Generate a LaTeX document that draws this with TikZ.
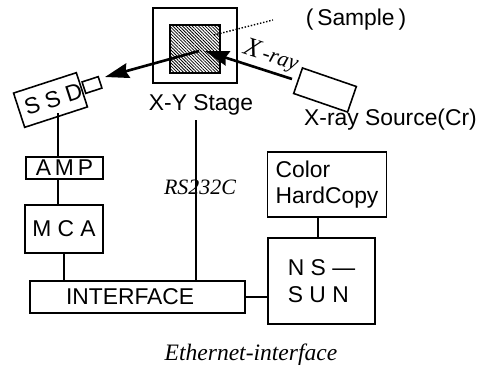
\documentclass[tikz,border=0pt]{standalone}
\usepackage{fontspec}
\setmainfont{Liberation Sans}
\newfontfamily\italfont{Liberation Serif}
\usepackage{xcolor}
\usetikzlibrary{arrows.meta, patterns.meta, positioning, calc}
\tikzset{
  blockbox/.style={draw, line width=0.9pt, inner sep=0pt, font=\fontsize{13}{15}\selectfont},
  plainlabel/.style={inner sep=0pt, font=\fontsize{13}{15}\selectfont},
  italiclabel/.style={inner sep=0pt, font=\fontsize{13.4}{15}\selectfont\italfont\itshape},
  beam/.style={line width=1.5pt, -{Stealth[length=0.48cm, width=0.3cm, inset=0.05cm]}},
  wire/.style={line width=0.9pt}
}
\begin{document}
\begin{tikzpicture}[x=0.02cm, y=-0.02cm]
      \useasboundingbox (0,0) rectangle (483,370);

      \node[blockbox, minimum width=1.68cm, minimum height=1.5cm] (stage) at (195,45.5) {};
      \node[draw, line width=1pt, minimum width=1cm, minimum height=0.96cm, pattern={Lines[angle=-45, distance=1.3pt, line width=0.45pt]}] (sample) at (195,49) {};
      \node[plainlabel] (stagelabel) at (201,105) {X-Y Stage};
      \node[plainlabel] (samplelabel) at (356,20) {(\,Sample\,)};

      \node[blockbox, rotate=18, minimum width=1.32cm, minimum height=0.72cm] (ssd) at (50.5,100) {\hspace*{3.4pt}S S D};
      \node[blockbox, rotate=18, minimum width=0.34cm, minimum height=0.24cm] (nozzle) at (92,85) {};
      \node[blockbox, rotate=-19, minimum width=1.14cm, minimum height=0.54cm] (source) at (325,90) {};
      \node[plainlabel] (sourcelabel) at (390.5,120) {X-ray Source(Cr)};
      \node[italiclabel, rotate=-18] (xraylabel) at (271,56) {\fontsize{15}{15}\selectfont X\fontsize{12.5}{15}\selectfont\,-ray};

      \node[blockbox, minimum width=1.54cm, minimum height=0.44cm] (amp) at (64.5,168) {A\,M\,P};
      \node[blockbox, minimum width=1.56cm, minimum height=0.96cm] (mca) at (64,229) {M C A};
      \node[blockbox, minimum width=4.3cm, minimum height=0.64cm, text width=2.86cm] (interface) at (137.5,297) {INTERFACE};
      \node[blockbox, minimum width=2.14cm, minimum height=1.72cm, align=left] (nssun) at (321.5,281) {N S ---\\S U N};
      \node[blockbox, minimum width=2.38cm, minimum height=1.3cm, align=left] (color) at (327,184.5) {Color\\HardCopy};
      \node[italiclabel, font=\fontsize{12.5}{13}\selectfont\italfont\itshape] (rslabel) at (200,187) {RS232C};
      \node[italiclabel] (etherlabel) at (251,355) {Ethernet-interface};

      \coordinate (beamcentre) at (199,51);
      \coordinate (beamend) at (105,77);
      \coordinate (beamstart) at (292,79);
      \coordinate (beamhit) at (205,51);
      \coordinate (dotstart) at (214,35);
      \coordinate (dotend) at (273,20);
      \coordinate (ssdout) at (58,113);
      \coordinate (rstop) at (196,120);
      \coordinate (colorwire) at ($(nssun.north west)!0.47!(nssun.north east)$);

      \draw [beam] (beamcentre) -- (beamend);
      \draw [beam] (beamstart) -- (beamhit);
      \draw [densely dotted, line width=0.8pt] (dotstart) -- (dotend);

      \draw [wire] (ssdout) -- (ssdout |- amp.north);
      \draw [wire] (ssdout |- amp.south) -- (ssdout |- mca.north);
      \draw [wire] (mca.south) -- (mca.south |- interface.north);
      \draw [wire] (rstop) -- (rstop |- interface.north);
      \draw [wire] (interface.east) -- (interface.east -| nssun.west);
      \draw [wire] (colorwire) -- (colorwire |- color.south);
    \end{tikzpicture}
\end{document}
